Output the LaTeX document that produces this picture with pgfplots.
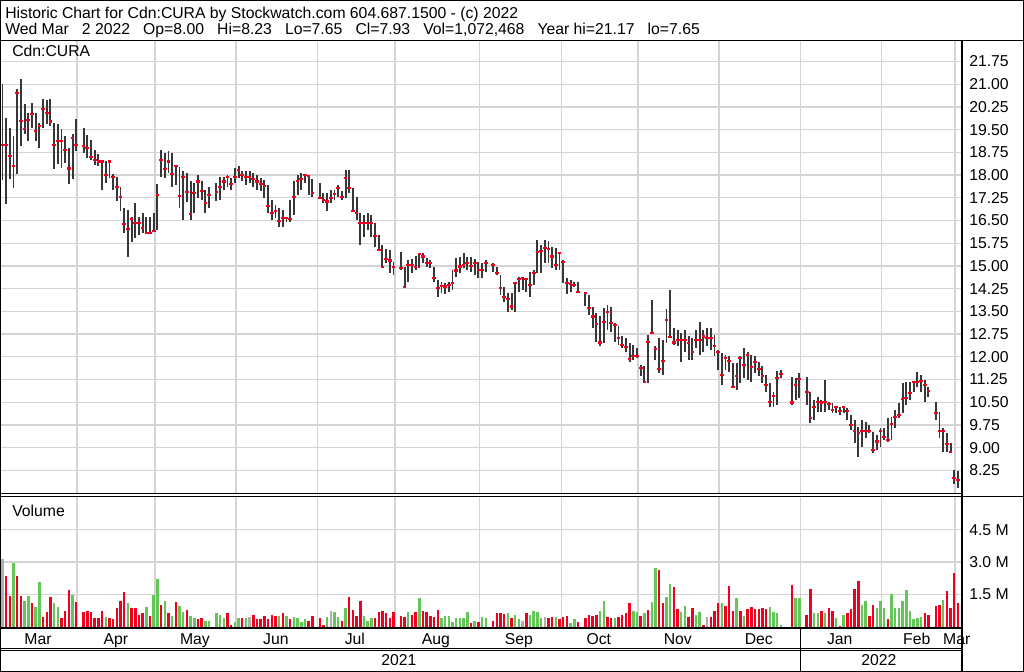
\documentclass[border=0pt]{standalone}
\usepackage{fontspec}
\setmainfont{Liberation Sans}
\usepackage{pgfplots}
\usepackage{pgfplotstable}
\pgfplotsset{compat=1.18}

\definecolor{gridc}{RGB}{212,212,212}
\definecolor{barc}{RGB}{55,55,55}
\definecolor{dnc}{RGB}{240,0,30}
\definecolor{upc}{RGB}{100,198,88}
\definecolor{flatc}{RGB}{175,175,175}

% w = weekday index from the first bar, holidays left out
\pgfplotstableread{
w hi lo cl
0 21.00 17.85 19.00
1 19.90 17.04 18.98
2 19.57 17.86 18.63
3 19.29 17.59 18.30
4 20.86 18.03 20.70
5 21.17 18.96 19.79
6 20.34 19.35 19.51
7 20.06 19.13 19.81
8 20.39 19.57 20.01
9 20.06 19.13 19.46
10 19.73 18.89 19.62
11 20.53 19.57 20.17
12 20.47 19.70 20.04
13 20.50 19.62 19.77
14 19.73 18.19 18.98
15 19.68 18.36 19.13
16 19.51 18.25 19.13
17 19.29 18.41 18.83
18 18.91 17.70 18.22
19 19.35 17.86 19.24
20 19.84 18.80 18.98
22 19.55 18.72 18.97
23 19.33 18.56 18.89
24 19.16 18.50 18.61
25 18.83 18.34 18.50
26 18.70 18.30 18.45
27 18.50 17.51 18.45
28 18.45 17.73 18.01
29 18.50 17.90 18.45
30 18.04 17.51 17.95
31 17.95 17.13 17.60
32 17.62 16.80 17.29
33 16.91 16.08 16.38
34 16.85 15.29 16.21
35 16.63 15.80 16.54
36 17.09 15.91 16.41
37 16.63 16.02 16.41
38 16.74 16.08 16.24
39 16.63 16.06 16.10
40 16.60 16.08 16.10
41 16.74 16.12 16.16
42 17.70 16.20 17.33
43 18.83 17.95 18.50
44 18.72 17.90 18.19
45 18.78 18.06 18.45
46 18.72 17.60 18.04
47 18.35 17.68 18.30
48 18.28 16.90 17.31
49 18.12 16.52 17.95
50 18.06 17.10 17.43
51 17.79 16.52 16.71
52 17.73 16.74 17.42
53 18.01 17.24 17.79
54 17.79 17.18 17.48
55 17.51 16.74 17.07
56 17.60 16.91 17.35
58 17.73 17.13 17.43
59 17.95 17.18 17.60
60 17.95 17.51 17.79
61 18.01 17.62 17.93
62 17.90 17.51 17.71
63 18.23 17.73 17.93
64 18.30 17.90 18.17
65 18.15 17.79 18.01
66 18.15 17.68 17.95
67 18.12 17.73 17.95
68 18.06 17.62 17.86
69 18.01 17.51 17.79
70 17.90 17.46 17.70
71 17.84 17.24 17.64
72 17.68 16.74 16.98
73 17.18 16.52 16.74
74 17.02 16.58 16.80
75 16.91 16.28 16.47
76 16.85 16.30 16.58
77 16.63 16.46 16.58
78 17.18 16.46 16.54
79 17.79 16.69 17.27
80 18.01 17.35 17.82
81 18.06 17.51 17.86
82 18.04 17.73 18.01
83 18.01 17.35 17.97
84 17.86 17.29 17.42
86 17.73 17.24 17.24
87 17.40 17.07 17.18
88 17.40 16.80 17.13
89 17.51 17.07 17.24
90 17.51 17.18 17.38
91 17.68 17.29 17.57
92 17.46 17.18 17.29
93 18.17 17.24 17.90
94 18.17 17.40 17.57
95 17.57 16.80 16.80
96 17.29 16.52 16.76
97 16.74 15.69 16.41
98 16.69 15.97 16.41
99 16.74 16.19 16.43
100 16.69 15.97 16.43
101 16.41 15.64 15.99
102 16.02 15.53 15.53
103 15.69 14.92 14.96
104 15.55 15.09 15.22
105 15.53 14.76 15.18
106 15.14 14.70 14.96
108 15.47 14.87 14.92
109 14.98 14.26 14.30
110 15.20 14.48 15.03
111 15.22 14.76 15.02
112 15.33 14.87 14.96
113 15.42 14.92 15.39
114 15.42 15.09 15.31
115 15.25 14.98 15.11
116 15.20 14.92 15.09
117 14.98 14.48 14.59
118 14.54 13.99 14.26
119 14.48 14.10 14.35
120 14.43 14.08 14.32
121 14.48 14.15 14.37
122 14.87 14.21 14.45
123 15.25 14.65 14.85
124 15.31 14.76 14.98
125 15.42 14.92 15.03
126 15.31 14.87 15.11
127 15.31 14.81 15.00
128 15.22 14.70 15.09
129 15.14 14.59 14.87
130 15.09 14.59 14.87
131 15.20 14.81 15.11
133 15.09 14.81 15.03
134 14.98 14.70 14.78
135 14.70 14.04 14.26
136 14.32 13.82 13.97
137 14.10 13.49 13.90
138 14.10 13.55 13.66
139 14.48 13.49 14.43
140 14.65 14.15 14.56
141 14.65 14.21 14.59
142 14.59 14.15 14.56
143 14.81 13.99 14.37
144 14.87 14.37 14.78
145 15.86 14.76 15.47
146 15.69 14.76 15.50
147 15.86 15.09 15.58
148 15.84 15.09 15.55
149 15.64 14.92 15.31
150 15.58 14.87 15.03
151 15.47 14.87 15.42
152 15.20 14.43 15.14
153 14.59 14.08 14.45
154 14.54 14.15 14.41
155 14.48 14.32 14.37
156 14.48 14.10 14.15
158 14.15 13.66 14.12
159 14.04 13.38 13.60
160 13.66 12.94 13.33
161 13.44 12.50 13.09
162 13.33 12.34 12.47
163 13.60 12.45 13.16
164 13.71 12.89 13.49
165 13.66 12.83 13.11
166 13.11 12.50 13.05
167 13.00 12.40 12.62
168 12.67 12.28 12.39
169 12.61 12.17 12.31
170 12.45 11.84 11.92
171 12.39 11.90 12.03
172 12.28 11.95 12.03
173 11.73 11.35 11.62
174 11.68 11.13 11.16
175 12.72 11.13 12.50
176 13.86 12.78 12.78
177 12.34 11.90 12.26
178 12.61 11.45 11.59
179 12.56 11.40 11.87
180 13.57 12.45 13.22
181 14.21 12.61 12.64
182 12.94 12.39 12.47
183 12.89 12.34 12.54
184 12.78 11.84 12.54
185 12.89 12.17 12.56
186 12.67 11.90 12.45
187 12.61 11.90 12.17
188 12.89 12.28 12.56
189 13.16 12.06 12.56
190 12.89 12.17 12.67
191 12.94 12.34 12.61
192 12.94 12.23 12.61
193 12.72 12.01 12.36
194 12.23 11.57 12.17
195 12.12 11.07 11.40
196 12.06 11.57 11.95
197 12.01 11.51 11.87
198 11.79 10.96 11.01
199 11.79 10.90 11.35
200 12.01 11.13 11.95
201 12.28 11.29 11.73
202 12.17 11.24 12.06
203 12.06 11.18 11.65
204 12.01 11.46 11.84
205 11.84 11.35 11.60
206 11.68 11.12 11.35
207 11.40 10.85 11.07
208 11.12 10.35 10.52
209 10.85 10.35 10.71
210 11.54 10.41 11.29
211 11.57 11.29 11.43
214 11.32 10.41 10.49
215 11.29 10.57 11.07
216 11.45 10.63 11.26
218 11.32 10.41 10.85
219 10.85 9.80 9.97
220 10.57 9.91 10.33
221 10.68 10.19 10.50
222 10.57 10.19 10.49
223 11.23 10.19 10.52
224 10.52 10.24 10.44
225 10.46 10.13 10.24
226 10.35 10.13 10.33
227 10.35 10.08 10.22
228 10.35 10.13 10.33
229 10.30 9.91 10.22
230 10.08 9.58 9.75
231 9.91 9.14 9.56
232 9.69 8.70 9.47
233 9.91 9.03 9.56
234 9.86 9.31 9.56
235 9.75 9.47 9.56
236 9.53 8.81 8.92
237 9.42 8.92 9.20
238 9.64 9.03 9.56
239 9.64 9.25 9.34
240 9.97 9.20 9.25
241 10.02 9.25 9.78
242 10.24 9.64 10.02
243 10.46 9.97 10.08
244 11.12 10.13 10.60
245 11.15 10.41 10.63
246 11.15 10.57 10.80
247 11.18 10.85 11.18
248 11.51 11.01 11.18
249 11.40 10.85 11.21
250 11.23 10.52 11.07
251 11.01 10.68 10.88
253 10.52 9.91 10.13
254 10.19 9.31 9.55
255 9.64 8.87 9.56
256 9.47 8.87 9.11
257 9.14 8.81 8.84
258 8.26 7.80 8.00
259 8.23 7.65 7.93
}\pricedata

% volume in millions, c: 1 down (red), 2 up (green), 0 unchanged (grey)
\pgfplotstableread{
w v c
0 3.12 0
1 2.35 1
2 1.42 1
3 2.97 2
4 2.35 1
5 1.42 1
6 1.21 2
7 1.42 2
8 1.08 1
9 0.93 2
10 2.06 2
11 0.46 1
12 0.68 1
13 1.36 1
14 1.08 2
15 0.93 2
16 0.40 1
17 0.74 1
18 1.70 1
19 1.47 2
20 1.14 1
22 0.68 1
23 0.74 1
24 0.68 1
25 0.40 1
26 0.40 1
27 0.74 1
28 0.46 2
29 0.40 1
30 0.34 1
31 0.85 1
32 1.19 1
33 1.59 1
34 1.08 2
35 0.85 1
36 0.85 1
37 0.56 1
38 0.62 1
39 0.90 2
40 0.51 1
41 1.47 2
42 2.21 2
43 1.03 1
44 1.19 2
45 0.62 1
46 0.51 2
47 1.13 1
48 0.98 2
49 0.68 2
50 0.79 1
51 0.51 2
52 0.40 2
53 0.34 1
54 0.40 1
55 0.28 2
56 0.28 2
58 0.62 2
59 0.56 2
60 0.40 2
61 0.62 1
62 0.06 1
63 0.22 2
64 0.40 2
65 0.40 1
66 0.40 2
67 0.46 0
68 0.56 1
69 0.34 1
70 0.34 1
71 0.51 1
72 0.34 1
73 0.56 1
74 0.51 1
75 0.51 2
76 0.62 1
77 0.51 2
78 0.34 1
79 0.46 2
80 0.40 2
81 0.22 2
82 0.34 2
83 0.28 1
84 0.51 1
86 0.40 1
87 0.06 1
88 0.46 2
89 0.74 0
90 0.68 2
91 0.46 2
92 0.28 1
93 0.85 2
94 1.36 1
95 0.79 1
96 0.51 1
97 1.19 1
98 0.51 2
99 0.28 2
100 0.40 2
101 0.40 1
102 0.68 1
103 0.74 1
104 0.62 1
105 0.40 1
106 0.68 1
108 0.51 1
109 0.46 1
110 0.68 2
111 0.56 1
112 0.68 1
113 1.31 2
114 0.74 1
115 0.68 1
116 0.51 1
117 0.46 1
118 0.79 1
119 0.40 2
120 0.51 2
121 0.51 2
122 0.22 2
123 0.40 2
124 0.40 2
125 0.40 2
126 0.68 2
127 0.17 1
128 0.28 2
129 0.22 1
130 0.46 2
131 0.40 2
133 0.28 1
134 0.62 1
135 0.62 1
136 0.59 1
137 0.62 2
138 0.40 1
139 0.56 2
140 0.34 2
141 0.28 0
142 0.62 1
143 0.56 2
144 0.74 2
145 0.68 2
146 0.40 2
147 0.46 0
148 0.40 1
149 0.46 1
150 0.46 2
151 0.34 1
152 0.46 1
153 0.51 1
154 0.17 2
155 0.34 2
156 0.22 1
158 0.40 1
159 0.56 1
160 0.51 1
161 0.56 1
162 0.74 2
163 1.19 2
164 0.46 1
165 0.40 1
166 0.40 2
167 0.46 1
168 0.56 1
169 0.62 1
170 1.08 1
171 0.74 2
172 0.68 2
173 0.51 1
174 0.62 2
175 0.79 1
176 1.13 2
177 2.74 2
178 2.61 1
179 1.08 1
180 1.36 2
181 1.98 2
182 1.83 1
183 0.80 1
184 0.68 2
185 0.96 2
186 0.46 1
187 0.85 1
188 0.56 2
189 0.68 2
190 0.06 1
191 0.46 0
192 0.46 1
193 0.74 1
194 1.08 1
195 1.08 2
196 0.96 1
197 1.87 1
198 0.74 1
199 1.31 2
200 0.74 1
201 0.51 2
202 0.80 1
203 0.90 1
204 0.80 1
205 0.80 1
206 0.85 1
207 0.80 1
208 0.90 2
209 0.68 2
210 0.62 2
211 0.06 2
214 1.93 1
215 1.31 2
216 1.31 2
218 0.56 1
219 1.76 1
220 0.62 2
221 0.62 2
222 0.74 1
223 0.62 2
224 0.85 1
225 0.74 1
226 0.40 2
227 0.03 1
228 0.56 2
229 0.62 1
230 0.80 1
231 1.76 1
232 2.10 1
233 1.02 2
234 1.19 2
235 0.51 1
236 1.02 1
237 0.85 2
238 1.19 2
239 0.85 2
240 0.34 1
241 1.53 2
242 0.85 2
243 0.85 2
244 1.19 2
245 1.70 2
246 0.74 2
247 0.34 2
248 0.40 2
249 0.46 2
250 0.62 1
251 0.56 1
253 0.96 1
254 1.02 1
255 1.25 2
256 1.66 1
257 0.85 1
258 2.51 1
259 1.08 1
}\voldata

\pgfplotsset{
  panel/.style={
    scale only axis, width=24.0cm,
    xmin=-0.398, xmax=259.83,
    axis line style={draw=none},
    major tick length=0pt,
    xtick={20.2,41.35,63.3,85.3,106.4,129.4,151.6,172.3,194.2,216.4,238.3,258.2},
    xticklabels={},
    grid=major, major grid style={gridc, line width=0.9pt},
    yticklabel pos=right,
    yticklabel style={anchor=west, inner sep=0pt, xshift=0.2cm, font=\fontsize{11.2}{13}\selectfont},
  },
}

\begin{document}
\begin{tikzpicture}[font=\fontsize{11.2}{13}\selectfont]
\useasboundingbox (0,0) rectangle (25.6cm,16.8cm);

% price panel: top-left at pixel (1,41)
\begin{axis}[panel, at={(0.025cm,15.775cm)}, anchor=north west, height=11.3cm,
  ymin=7.5, ymax=22.43,
  ytick={8.25,9,...,21.75},
  /pgf/number format/.cd, fixed, fixed zerofill, precision=2, assume math mode=true]
\addplot[only marks, mark=-, mark size=1.3pt, mark options={dnc, line width=1.5pt},
  error bars/.cd, y dir=both, y explicit, error mark=none,
  error bar style={barc, line width=1.35pt}]
  table[x=w, y=cl, y error plus expr=\thisrow{hi}-\thisrow{cl},
        y error minus expr=\thisrow{cl}-\thisrow{lo}] {\pricedata};
\end{axis}

% volume panel: top-left at pixel (1,497)
\begin{axis}[panel, at={(0.025cm,4.375cm)}, anchor=north west, height=3.275cm,
  ymin=-0.06, ymax=6.02,
  ytick={1.5,3,4.5}, yticklabels={1.5 M,3.0 M,4.5 M}]
\addplot[ycomb, dnc, line width=1.75pt, restrict expr to domain={\thisrow{c}}{1:1}]
  table[x=w, y=v] {\voldata};
\addplot[ycomb, upc, line width=1.75pt, restrict expr to domain={\thisrow{c}}{2:2}]
  table[x=w, y=v] {\voldata};
\addplot[ycomb, flatc, line width=1.75pt, restrict expr to domain={\thisrow{c}}{0:0}]
  table[x=w, y=v] {\voldata};
\end{axis}

\begin{scope}[x=0.025cm, y=-0.025cm, shift={(0,16.8cm)}]
% frame
\draw[line width=0.8pt] (0.5,0.5) rectangle (1023.5,671.5);
\draw[line width=0.8pt] (0,40.5) -- (1024,40.5);
\draw[line width=1.5pt] (962,40.5) -- (962,671);
\draw[line width=0.8pt] (0,493.5) -- (962,493.5);
\draw[line width=0.8pt] (0,496.5) -- (1024,496.5);
\draw[line width=1.5pt] (0,628) -- (962,628);
\draw[line width=0.8pt] (0,648.3) -- (962,648.3);
\draw[line width=0.8pt] (0,650.7) -- (962,650.7);
\draw[line width=0.8pt] (801,628) -- (801,671);

% texts
\node[anchor=base west, inner sep=0pt] at (5,19) {Historic Chart for Cdn:CURA by Stockwatch.com 604.687.1500 - (c) 2022};
\node[anchor=base west, inner sep=0pt] at (5,35) {Wed Mar\ \ \ 2 2022\ \ \ Op=8.00\ \ \ Hi=8.23\ \ \ Lo=7.65\ \ \ Cl=7.93\ \ \ Vol=1,072,468\ \ \ Year hi=21.17\ \ \ lo=7.65};
\node[anchor=base west, inner sep=0pt] at (12,57) {Cdn:CURA};
\node[anchor=base west, inner sep=0pt] at (12,517) {Volume};
\foreach \m/\xx in {Mar/38,Apr/116,May/195,Jun/276,Jul/355,Aug/436,Sep/519,Oct/599,Nov/678,Dec/759,Jan/840,Feb/917,Mar/957}
  \node[anchor=base, inner sep=0pt] at (\xx,645) {\m};
\node[anchor=base, inner sep=0pt] at (399,666) {2021};
\node[anchor=base, inner sep=0pt] at (879,666) {2022};
\end{scope}
\end{tikzpicture}
\end{document}
